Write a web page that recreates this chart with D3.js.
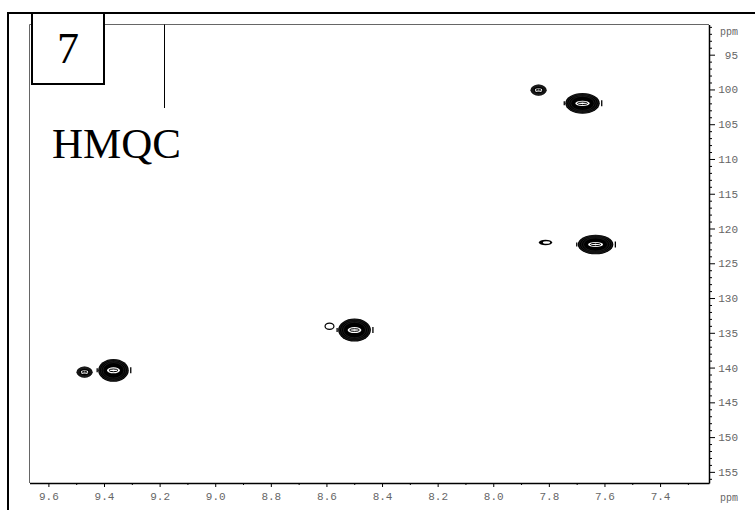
<!DOCTYPE html>
<html>
<head>
<meta charset="utf-8">
<script src="https://cdn.jsdelivr.net/npm/d3@7"></script>
<style>
  body { margin: 0; background: #fff; }
</style>
</head>
<body>
<div id="chart"></div>
<script>
// peaks: 1H shift (ppm), 13C shift (ppm), half widths (ppm), kind of contour
const peakH  = [7.837, 7.679, 7.812, 7.632, 8.589, 8.499, 9.470, 9.366];
const peakC  = [100.1, 102.0, 122.0, 122.3, 134.05, 134.6, 140.66, 140.4];
const peakWH = [0.029, 0.062, 0.024, 0.064, 0.016, 0.059, 0.029, 0.055];
const peakWC = [0.8, 1.5, 0.4, 1.4, 0.45, 1.65, 0.8, 1.65];
const peakKind = ['small', 'big', 'ring2', 'big', 'ring', 'big', 'small', 'big'];

const xTicks = [9.6, 9.4, 9.2, 9.0, 8.8, 8.6, 8.4, 8.2, 8.0, 7.8, 7.6, 7.4];
const yTicks = [95, 100, 105, 110, 115, 120, 125, 130, 135, 140, 145, 150, 155];

const width = 755, height = 510;
const plot = {left: 29.5, right: 709, top: 24.5, bottom: 483};
const monoFont = '"Liberation Mono", "Courier New", monospace';

const svg = d3.select('#chart').append('svg')
  .attr('width', width)
  .attr('height', height);

const x = d3.scaleLinear().domain([9.668, 7.224]).range([plot.left, plot.right]);
const y = d3.scaleLinear().domain([90.66, 156.6]).range([plot.top, plot.bottom]);

// outer frame (top + left)
svg.append('path')
  .attr('d', `M8,${height} L8,13 L${width},13`)
  .attr('fill', 'none').attr('stroke', '#000').attr('stroke-width', 2);

// plot frame, top and left are thin gray
svg.append('path')
  .attr('d', `M${plot.left},${plot.bottom} L${plot.left},${plot.top} L${plot.right},${plot.top}`)
  .attr('fill', 'none').attr('stroke', '#666').attr('stroke-width', 1);

// peaks
const g = svg.append('g');
peakH.forEach((h, i) => {
  const cx = x(h), cy = y(peakC[i]);
  const rx = Math.abs(x(h + peakWH[i]) - cx);
  const ry = Math.abs(y(peakC[i] + peakWC[i]) - cy);
  const kind = peakKind[i];
  if (kind === 'ring') {
    g.append('ellipse').attr('cx', cx).attr('cy', cy).attr('rx', rx).attr('ry', ry)
      .attr('fill', 'none').attr('stroke', '#000').attr('stroke-width', 1.2);
    return;
  }
  if (kind === 'ring2') {
    g.append('ellipse').attr('cx', cx).attr('cy', cy).attr('rx', rx).attr('ry', ry)
      .attr('fill', '#000');
    g.append('ellipse').attr('cx', cx + rx * 0.15).attr('cy', cy).attr('rx', rx * 0.55).attr('ry', ry * 0.45)
      .attr('fill', '#fff');
    return;
  }
  g.append('ellipse').attr('cx', cx).attr('cy', cy).attr('rx', rx).attr('ry', ry)
    .attr('fill', '#000');
  // contour texture
  [0.92, 0.8, 0.68].forEach(k => {
    g.append('ellipse').attr('cx', cx).attr('cy', cy).attr('rx', rx * k).attr('ry', ry * k)
      .attr('fill', 'none').attr('stroke', '#333').attr('stroke-width', 0.5);
  });
  const ix = kind === 'big' ? 0.42 : 0.45, iy = kind === 'big' ? 0.26 : 0.35;
  g.append('ellipse').attr('cx', cx).attr('cy', cy).attr('rx', rx * ix).attr('ry', ry * iy)
    .attr('fill', '#fff');
  g.append('ellipse').attr('cx', cx).attr('cy', cy).attr('rx', rx * ix * 0.7).attr('ry', ry * iy * 0.45)
    .attr('fill', 'none').attr('stroke', '#000').attr('stroke-width', 1);
  if (kind === 'big') {
    // little side lobes of the contours
    g.append('line').attr('x1', cx + rx + 2).attr('x2', cx + rx + 2)
      .attr('y1', cy - 3).attr('y2', cy + 3).attr('stroke', '#000').attr('stroke-width', 1.3);
    g.append('line').attr('x1', cx - rx - 1).attr('x2', cx - rx - 1)
      .attr('y1', cy - 2).attr('y2', cy + 2).attr('stroke', '#000').attr('stroke-width', 1.3);
  }
});

function styleLabels(sel) {
  sel.attr('fill', null)
    .style('font-family', monoFont)
    .style('font-size', '11px')
    .style('fill', '#666');
}

// right axis (13C)
const minorY = d3.range(91, 157, 1).filter(v => v % 5 !== 0);
svg.append('g')
  .attr('transform', `translate(${plot.right},0)`)
  .call(d3.axisRight(y).tickValues(minorY).tickSize(3).tickFormat(''))
  .call(a => a.select('.domain').remove())
  .selectAll('line').attr('stroke', '#000');

const yAxis = svg.append('g')
  .attr('transform', `translate(${plot.right},0)`)
  .call(d3.axisRight(y).tickValues(yTicks).tickSize(6).tickSizeOuter(0));
yAxis.select('.domain').attr('stroke', '#000').attr('stroke-width', 1.5);
yAxis.selectAll('text')
  .attr('text-anchor', 'end')
  .attr('x', 29)
  .call(styleLabels);

// bottom axis (1H)
const minorX = d3.range(9.5, 7.2, -0.2);
svg.append('g')
  .attr('transform', `translate(0,${plot.bottom})`)
  .call(d3.axisBottom(x).tickValues(minorX).tickSize(2).tickFormat(''))
  .call(a => a.select('.domain').remove())
  .selectAll('line').attr('stroke', '#000');

const xAxis = svg.append('g')
  .attr('transform', `translate(0,${plot.bottom})`)
  .call(d3.axisBottom(x).tickValues(xTicks).tickSize(4).tickSizeOuter(0).tickFormat(d3.format('.1f')));
xAxis.select('.domain').attr('stroke', '#000').attr('stroke-width', 1.5);
xAxis.selectAll('text')
  .attr('y', 9)
  .call(styleLabels);

// unit labels
svg.append('text')
  .attr('x', 738).attr('y', 35).attr('text-anchor', 'end')
  .call(styleLabels).style('font-size', '10px').text('ppm');
svg.append('text')
  .attr('x', 738).attr('y', 501).attr('text-anchor', 'end')
  .call(styleLabels).style('font-size', '10px').text('ppm');

// compound number box
svg.append('rect')
  .attr('x', 32).attr('y', 13).attr('width', 72).attr('height', 71)
  .attr('fill', '#fff').attr('stroke', '#000').attr('stroke-width', 2);
svg.append('text')
  .attr('x', 68).attr('y', 63).attr('text-anchor', 'middle')
  .style('font-family', '"Liberation Serif", "Times New Roman", serif')
  .style('font-size', '44px').text('7');

// marker line
svg.append('line')
  .attr('x1', 164.5).attr('x2', 164.5).attr('y1', plot.top).attr('y2', 108)
  .attr('stroke', '#000').attr('stroke-width', 1);

svg.append('text')
  .attr('x', 52).attr('y', 158)
  .style('font-family', '"Liberation Serif", "Times New Roman", serif')
  .style('font-size', '43px').text('HMQC');
</script>
</body>
</html>
